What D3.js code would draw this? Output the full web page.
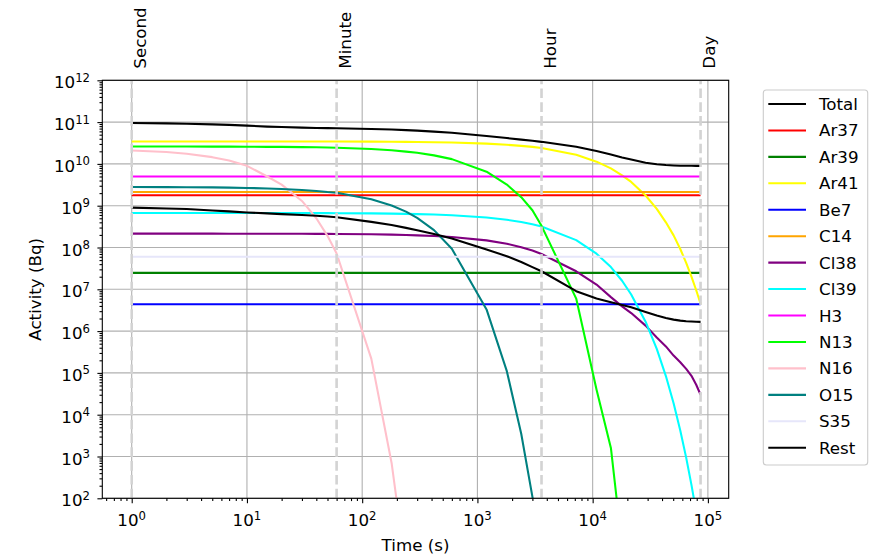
<!DOCTYPE html>
<html><head><meta charset="utf-8">
<script src="https://cdn.jsdelivr.net/npm/d3@7"></script>
<style>
body{margin:0;background:#fff}
svg{display:block;font-family:"DejaVu Sans",sans-serif}
</style>
</head><body>
<svg id="c" width="881" height="555"></svg>
<script>
// ---------- data ----------
const times = [1,2,3,5,7,10,15,20,30,40,50,60,120,180,240,300,420,600,1200,1800,2400,3000,3600,7200,10800,14400,18000,21600,28800,36000,43200,50400,57600,64800,72000,79200,86400];

const seriesNames = ["Total","Ar37","Ar39","Ar41","Be7","C14","Cl38","Cl39","H3","N13","N16","O15","S35","Rest"];
const seriesColors = ["#000000","#ff0000","#008000","#ffff00","#0000ff","#ffa500","#800080","#00ffff","#ff00ff","#00ff00","#ffc0cb","#008080","#e6e6fa","#000000"];

const total = [9.51e10,9.32e10,9.14e10,8.82e10,8.57e10,8.25e10, 7.81e10,7.62e10,7.37e10,7.25e10,7.17e10,7.11e10, 6.85e10,6.63e10,6.42e10,6.25e10,5.92e10,5.54e10, 4.67e10,4.15e10,3.81e10,3.57e10,3.37e10, 2.57e10,2.04e10,1.68e10,1.43e10,1.27e10, 1.07e10,9.81e9,9.37e9,9.17e9,9.06e9,9.01e9,8.99e9,8.98e9,8.97e9];
const ar37 = [1.78e9,1.78e9,1.78e9,1.78e9,1.78e9,1.78e9, 1.78e9,1.78e9,1.78e9,1.78e9,1.78e9,1.78e9, 1.78e9,1.78e9,1.78e9,1.78e9,1.78e9,1.78e9, 1.78e9,1.78e9,1.78e9,1.78e9,1.78e9, 1.78e9,1.78e9,1.78e9,1.78e9,1.78e9, 1.78e9,1.78e9,1.78e9,1.78e9,1.78e9,1.78e9,1.78e9,1.78e9,1.78e9];
const ar39 = [2.47e7,2.47e7,2.47e7,2.47e7,2.47e7,2.47e7, 2.47e7,2.47e7,2.47e7,2.47e7,2.47e7,2.47e7, 2.47e7,2.47e7,2.47e7,2.47e7,2.47e7,2.47e7, 2.47e7,2.47e7,2.47e7,2.47e7,2.47e7, 2.47e7,2.47e7,2.47e7,2.47e7,2.47e7, 2.47e7,2.47e7,2.47e7,2.47e7,2.47e7,2.47e7,2.47e7,2.47e7,2.47e7];
const ar41 = [3.45e10,3.45e10,3.45e10,3.45e10,3.45e10,3.45e10, 3.44e10,3.44e10,3.44e10,3.43e10,3.43e10,3.43e10, 3.41e10,3.39e10,3.37e10,3.35e10,3.30e10,3.24e10, 3.05e10,2.87e10,2.70e10,2.55e10,2.40e10, 1.65e10,1.13e10,7.8e9,5.3e9,3.7e9, 1.75e9,8.4e8,4.0e8,1.95e8,9.2e7,4.3e7,2.0e7,9.5e6,4.5e6];
const be7 = [4.4e6,4.4e6,4.4e6,4.4e6,4.4e6,4.4e6, 4.4e6,4.4e6,4.4e6,4.4e6,4.4e6,4.4e6, 4.4e6,4.4e6,4.4e6,4.4e6,4.4e6,4.4e6, 4.4e6,4.4e6,4.4e6,4.4e6,4.4e6, 4.4e6,4.4e6,4.4e6,4.4e6,4.4e6, 4.4e6,4.4e6,4.4e6,4.4e6,4.4e6,4.4e6,4.4e6,4.4e6,4.4e6];
const c14 = [2.13e9,2.13e9,2.13e9,2.13e9,2.13e9,2.13e9, 2.13e9,2.13e9,2.13e9,2.13e9,2.13e9,2.13e9, 2.13e9,2.13e9,2.13e9,2.13e9,2.13e9,2.13e9, 2.13e9,2.13e9,2.13e9,2.13e9,2.13e9, 2.13e9,2.13e9,2.13e9,2.13e9,2.13e9, 2.13e9,2.13e9,2.13e9,2.13e9,2.13e9,2.13e9,2.13e9,2.13e9,2.13e9];
const cl38 = [2.15e8,2.15e8,2.15e8,2.15e8,2.14e8,2.14e8, 2.14e8,2.13e8,2.13e8,2.12e8,2.12e8,2.11e8, 2.07e8,2.03e8,1.99e8,1.95e8,1.88e8,1.78e8, 1.48e8,1.23e8,1.02e8,8.5e7,7.0e7, 2.7e7,1.3e7,6.5e6,3.9e6,2.7e6, 1.35e6,7.0e5,4.3e5,2.6e5,1.8e5,1.25e5,8.5e4,5.2e4,3.0e4];
const cl39 = [6.7e8,6.7e8,6.7e8,6.69e8,6.69e8,6.69e8, 6.68e8,6.67e8,6.66e8,6.64e8,6.63e8,6.62e8, 6.54e8,6.45e8,6.37e8,6.29e8,6.13e8,5.9e8, 5.2e8,4.6e8,4.07e8,3.6e8,3.17e8, 1.5e8,7.1e7,3.4e7,1.6e7,7.5e6, 1.68e6,3.76e5,8.4e4,1.88e4,4.2e3,9.4e2,2.1e2,47,10.5];
const h3 = [5.0e9,5.0e9,5.0e9,5.0e9,5.0e9,5.0e9, 5.0e9,5.0e9,5.0e9,5.0e9,5.0e9,5.0e9, 5.0e9,5.0e9,5.0e9,5.0e9,5.0e9,5.0e9, 5.0e9,5.0e9,5.0e9,5.0e9,5.0e9, 5.0e9,5.0e9,5.0e9,5.0e9,5.0e9, 5.0e9,5.0e9,5.0e9,5.0e9,5.0e9,5.0e9,5.0e9,5.0e9,5.0e9];
const n13 = [2.6e10,2.6e10,2.6e10,2.59e10,2.59e10,2.58e10, 2.56e10,2.55e10,2.52e10,2.5e10,2.47e10,2.44e10, 2.27e10,2.12e10,1.97e10,1.84e10,1.6e10,1.3e10, 6.5e9,3.2e9,1.6e9,7.8e8,3.3e8, 6.0e6,4.0e4,1.6e3,7,null, null,null,null,null,null,null,null,null,null];
const n16 = [2.1e10,1.92e10,1.75e10,1.45e10,1.2e10,9.0e9, 5.0e9,3.2e9,1.3e9,5.0e8,1.9e8,7.2e7, 2.2e5,7e2,2,null,null,null, null,null,null,null,null, null,null,null,null,null, null,null,null,null,null,null,null,null,null];
const o15 = [2.8e9,2.78e9,2.77e9,2.74e9,2.71e9,2.66e9, 2.59e9,2.51e9,2.37e9,2.24e9,2.12e9,2.05e9, 1.42e9,1.01e9,7.2e8,5.1e8,2.6e8,9.3e7, 3.3e6,1.1e5,3.5e3,1.1e2,3.5, null,null,null,null,null, null,null,null,null,null,null,null,null,null];
const s35 = [6.0e7,6.0e7,6.0e7,6.0e7,6.0e7,6.0e7, 6.0e7,6.0e7,6.0e7,6.0e7,6.0e7,6.0e7, 6.0e7,6.0e7,6.0e7,6.0e7,6.0e7,6.0e7, 6.0e7,6.0e7,6.0e7,6.0e7,6.0e7, 6.0e7,6.0e7,6.0e7,6.0e7,6.0e7, 6.0e7,6.0e7,6.0e7,6.0e7,6.0e7,6.0e7,6.0e7,6.0e7,6.0e7];
const rest = [9.0e8,8.6e8,8.3e8,7.7e8,7.3e8,6.9e8, 6.55e8,6.3e8,6.0e8,5.75e8,5.5e8,5.3e8, 4.1e8,3.45e8,2.95e8,2.6e8,2.1e8,1.65e8, 9.0e7,6.2e7,4.5e7,3.4e7,2.7e7, 9.0e6,6.0e6,4.9e6,4.2e6,3.7e6, 2.85e6,2.35e6,2.05e6,1.88e6,1.78e6,1.72e6,1.69e6,1.67e6,1.66e6];

const seriesValues = [total,ar37,ar39,ar41,be7,c14,cl38,cl39,h3,n13,n16,o15,s35,rest];

const markerTimes = [1,60,3600,86400];
const markerLabels = ["Second","Minute","Hour","Day"];

const xTickExps = ["0","1","2","3","4","5"];
const yTickExps = ["2","3","4","5","6","7","8","9","10","11","12"];

const xLabel = "Time (s)";
const yLabel = "Activity (Bq)";

// ---------- layout ----------
const P = {l:102.3, r:728.7, t:80.3, b:498.3};
const FS = 16.7, SUP = 11.7;
const svg = d3.select("#c");

const x = d3.scaleLog().domain([Math.pow(10,-0.2552), Math.pow(10,5.1806)]).range([P.l,P.r]);
const y = d3.scaleLog().domain([1e2,1e12]).range([P.b,P.t]);

const xMajor = xTickExps.map(e => Math.pow(10,+e));
const yMajor = yTickExps.map(e => Math.pow(10,+e));
function minorTicks(scale){
  const [a,b] = scale.domain();
  const out = [];
  for(let k=Math.floor(Math.log10(a)); k<=Math.ceil(Math.log10(b)); k++){
    for(let m=2;m<=9;m++){ const v=m*Math.pow(10,k); if(v>=a && v<=b) out.push(v); }
  }
  return out;
}

svg.append("defs").append("clipPath").attr("id","clip")
  .append("rect").attr("x",P.l).attr("y",P.t).attr("width",P.r-P.l).attr("height",P.b-P.t);

// grid
const grid = svg.append("g").attr("stroke","#b0b0b0").attr("stroke-width",1.1);
xMajor.forEach(v => grid.append("line").attr("x1",x(v)).attr("x2",x(v)).attr("y1",P.t).attr("y2",P.b));
yMajor.forEach(v => grid.append("line").attr("y1",y(v)).attr("y2",y(v)).attr("x1",P.l).attr("x2",P.r));

// data lines
const line = d3.line().defined(d => d[1] != null).x(d => x(d[0])).y(d => y(d[1]));
const lg = svg.append("g").attr("clip-path","url(#clip)");
seriesNames.forEach((name,i) => {
  lg.append("path")
    .attr("d", line(times.map((t,j) => [t, seriesValues[i][j]])))
    .attr("fill","none").attr("stroke",seriesColors[i]).attr("stroke-width",2.08)
    .attr("stroke-linejoin","round").attr("stroke-linecap","butt");
});

// dashed markers
markerTimes.forEach((t,i) => {
  svg.append("line").attr("x1",x(t)).attr("x2",x(t)).attr("y1",P.b).attr("y2",P.t)
    .attr("stroke","#d3d3d3").attr("stroke-width",2.6).attr("stroke-dasharray","9.6,4.2");
  svg.append("text").attr("transform",`translate(${x(t)+14.4},68.7) rotate(-90)`)
    .attr("font-size",FS).attr("fill","#000").text(markerLabels[i]);
});

// axes
const xAxisMinor = d3.axisBottom(x).tickValues(minorTicks(x)).tickSize(2.8).tickFormat("");
const xAxisMajor = d3.axisBottom(x).tickValues(xMajor).tickSize(4.9).tickFormat("");
const yAxisMinor = d3.axisLeft(y).tickValues(minorTicks(y)).tickSize(2.8).tickFormat("");
const yAxisMajor = d3.axisLeft(y).tickValues(yMajor).tickSize(4.9).tickFormat("");
[[xAxisMinor,"b"],[xAxisMajor,"b"],[yAxisMinor,"l"],[yAxisMajor,"l"]].forEach(([ax,side]) => {
  const g = svg.append("g").attr("transform", side==="b" ? `translate(0,${P.b})` : `translate(${P.l},0)`).call(ax);
  g.select(".domain").remove();
  g.selectAll("line").attr("stroke","#000").attr("stroke-width",1.1);
});

// tick labels with superscripts
xMajor.forEach((v,i) => {
  const t = svg.append("text").attr("x",x(v)).attr("y",526).attr("text-anchor","middle").attr("font-size",FS).attr("fill","#000");
  t.append("tspan").text("10");
  t.append("tspan").attr("font-size",SUP).attr("dy",-6.5).text(xTickExps[i]);
});
yMajor.forEach((v,i) => {
  const t = svg.append("text").attr("x",90).attr("y",y(v)+8).attr("text-anchor","end").attr("font-size",FS).attr("fill","#000");
  t.append("tspan").text("10");
  t.append("tspan").attr("font-size",SUP).attr("dy",-6.5).text(yTickExps[i]);
});

// spines
svg.append("rect").attr("x",P.l).attr("y",P.t).attr("width",P.r-P.l).attr("height",P.b-P.t)
  .attr("fill","none").attr("stroke","#000").attr("stroke-width",1.1);

// axis labels
svg.append("text").attr("x",(P.l+P.r)/2).attr("y",550.5).attr("text-anchor","middle").attr("font-size",FS).text(xLabel);
svg.append("text").attr("transform",`translate(41,${(P.t+P.b)/2}) rotate(-90)`).attr("text-anchor","middle").attr("font-size",FS).text(yLabel);

// legend
const leg = svg.append("g");
leg.append("rect").attr("x",763.3).attr("y",90).attr("width",104.4).attr("height",375).attr("rx",3)
  .attr("fill","#fff").attr("fill-opacity",0.8).attr("stroke","#cccccc").attr("stroke-width",1.1);
seriesNames.forEach((name,i) => {
  const yy = 104 + i*26.44;
  leg.append("line").attr("x1",768.3).attr("x2",806).attr("y1",yy).attr("y2",yy)
    .attr("stroke",seriesColors[i]).attr("stroke-width",2.08);
  leg.append("text").attr("x",819).attr("y",yy+6).attr("font-size",FS).attr("fill","#000").text(name);
});
</script>
</body></html>
